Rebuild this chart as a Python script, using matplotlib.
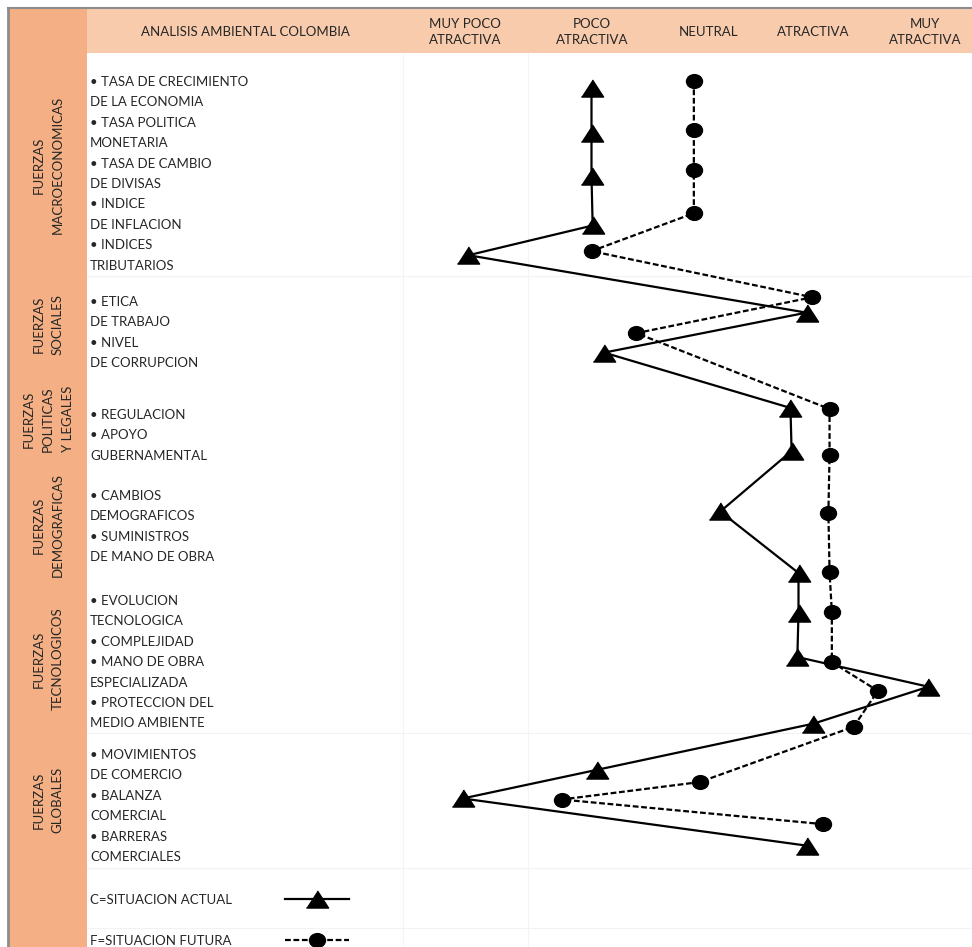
import matplotlib
matplotlib.use("Agg")
import matplotlib.pyplot as plt
from matplotlib.patches import Rectangle
from matplotlib.lines import Line2D
from matplotlib.markers import MarkerStyle
from matplotlib.transforms import Affine2D

plt.rcParams['font.family'] = ['Lato', 'DejaVu Sans']

# escala de atractivo: 1 = muy poco atractiva ... 5 = muy atractiva
escala = ["MUY POCO\nATRACTIVA", "POCO\nATRACTIVA", "NEUTRAL", "ATRACTIVA", "MUY\nATRACTIVA"]
escala_x = [465, 592, 708, 813, 925]

grupos = ["FUERZAS\nMACROECONOMICAS", "FUERZAS\nSOCIALES", "FUERZAS\nPOLITICAS\nY LEGALES",
          "FUERZAS\nDEMOGRAFICAS", "FUERZAS\nTECNOLOGICOS", "FUERZAS\nGLOBALES"]
grupos_y = [165, 324, 419, 525, 659, 800]

items = [
    ["• TASA DE CRECIMIENTO", "DE LA ECONOMIA", "• TASA POLITICA", "MONETARIA",
     "• TASA DE CAMBIO", "DE DIVISAS", "• INDICE", "DE INFLACION", "• INDICES", "TRIBUTARIOS"],
    ["• ETICA", "DE TRABAJO", "• NIVEL", "DE CORRUPCION"],
    ["• REGULACION", "• APOYO", "GUBERNAMENTAL"],
    ["• CAMBIOS", "DEMOGRAFICOS", "• SUMINISTROS", "DE MANO DE OBRA"],
    ["• EVOLUCION", "TECNOLOGICA", "• COMPLEJIDAD", "• MANO DE OBRA", "ESPECIALIZADA",
     "• PROTECCION DEL", "MEDIO AMBIENTE"],
    ["• MOVIMIENTOS", "DE COMERCIO", "• BALANZA", "COMERCIAL", "• BARRERAS", "COMERCIALES"],
]
items_y0 = [82, 302, 415, 496, 601, 755]

# C = situacion actual, F = situacion futura (valor en la escala, posicion en renglones)
c_valor = [2.10, 2.10, 2.10, 2.11, 1.03, 3.97, 2.21, 3.83, 3.84, 3.22, 3.90, 3.90, 3.89, 5.03, 4.03, 2.15, 0.98, 3.97]
c_pos = [0.3, 2.5, 4.6, 7.0, 8.45, 11.25, 13.2, 15.9, 18.0, 20.95, 23.95, 25.9, 28.05, 29.5, 31.3, 33.55, 34.95, 37.25]
f_valor = [2.99, 2.99, 2.99, 2.99, 2.10, 4.02, 2.49, 4.17, 4.17, 4.16, 4.17, 4.19, 4.19, 4.59, 4.38, 3.04, 1.84, 4.11]
f_pos = [-0.05, 2.35, 4.3, 6.4, 8.25, 10.5, 12.25, 15.95, 18.2, 21.0, 23.9, 25.85, 28.3, 29.7, 31.45, 34.15, 35.0, 36.2]

W, H = 972, 947
fig = plt.figure(figsize=(W / 100, H / 100), dpi=100)
txt = '#262626'
fs = 9.5

# fondo tipo tabla
bg = fig.add_axes([0, 0, 1, 1])
bg.set_xlim(0, W)
bg.set_ylim(H, 0)
bg.axis('off')
bg.add_patch(Rectangle((9, 8), 78, H - 8, color='#F4B084', lw=0))
bg.add_patch(Rectangle((87, 8), W - 87, 45, color='#F8CBAD', lw=0))
bg.plot([8, W], [8, 8], color='#8c8c8c', lw=1.5)
bg.plot([8, 8], [8, H], color='#8c8c8c', lw=2)
for yy in [276, 733, 868, 928]:
    bg.plot([87, W], [yy, yy], color='#f2f2f2', lw=0.8)
for xx in [403, 528]:
    bg.plot([xx, xx], [53, H], color='#f4f4f4', lw=0.8)

bg.text(245, 32, "ANALISIS AMBIENTAL COLOMBIA", ha='center', va='center', fontsize=fs, color=txt)
for lab, x in zip(escala, escala_x):
    bg.text(x, 32, lab, ha='center', va='center', fontsize=fs, color=txt, linespacing=1.45)

for lab, y in zip(grupos, grupos_y):
    bg.text(48, y, lab, ha='center', va='center', rotation=90, fontsize=fs, color=txt,
            linespacing=1.75, multialignment='center')

for lines, y0 in zip(items, items_y0):
    for k, s in enumerate(lines):
        bg.text(90, y0 + 20.4 * k, s, ha='left', va='center', fontsize=fs, color=txt)

# grafico de perfil
ax = fig.add_axes([400 / W, 0, (W - 400) / W, (H - 53) / H])
ax.set_xlim(1 + (400 - 465) / 115, 1 + (W - 465) / 115)
ax.set_ylim((H - 82) / 20.5, (53 - 82) / 20.5)
ax.axis('off')
ax.patch.set_alpha(0)

tri = [(-1.3, -1), (1.3, -1), (0, 1)]
elip = MarkerStyle('o', transform=Affine2D().scale(1.0, 0.86))
guion = (0, (2.6, 1.2))
ax.plot(c_valor, c_pos, color='black', lw=1.6, marker=tri, markersize=16, clip_on=False)
ax.plot(f_valor, f_pos, color='black', lw=1.6, ls=guion, marker=elip,
        markersize=11.5, clip_on=False)

h1 = Line2D([], [], color='black', lw=1.6, marker=tri, markersize=16)
h2 = Line2D([], [], color='black', lw=1.6, ls=guion, marker=elip, markersize=11.5)
fig.legend([h1, h2], ["C=SITUACION ACTUAL", "F=SITUACION FUTURA"], loc='upper left',
           bbox_to_anchor=(90 / W, 1 - 894 / H), frameon=False, markerfirst=False,
           fontsize=fs, labelcolor=txt, handlelength=4.9, handletextpad=4.0,
           labelspacing=2.18, borderpad=0, borderaxespad=0, numpoints=1)

fig.savefig("out.png", dpi=100)
